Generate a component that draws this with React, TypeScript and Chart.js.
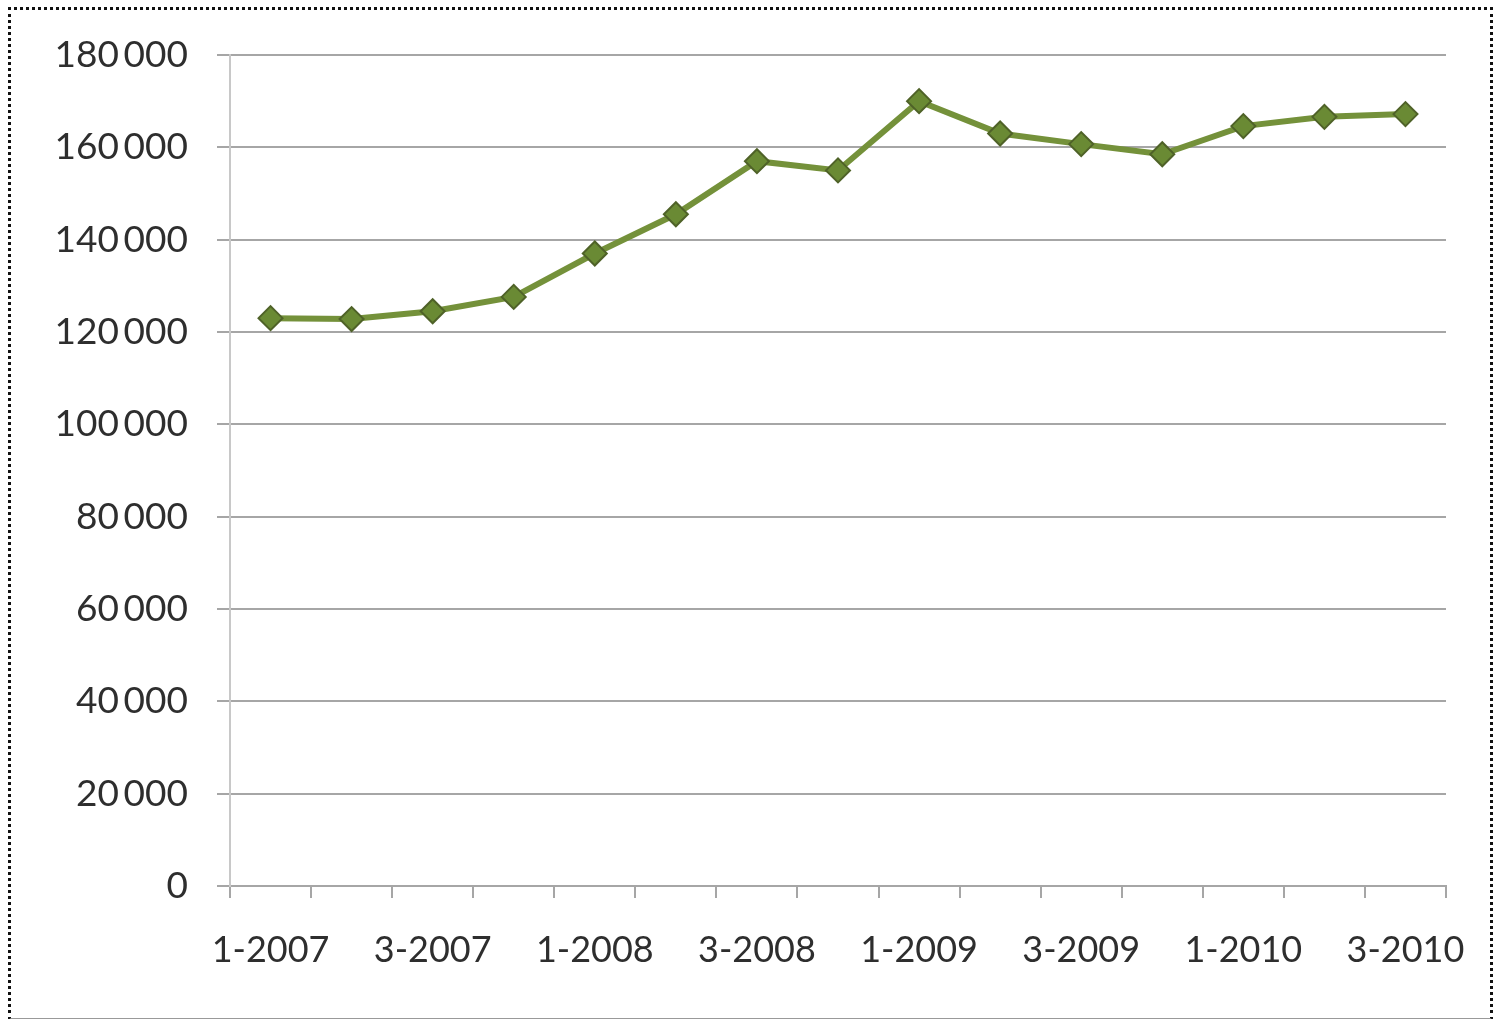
import React, { useEffect, useRef } from "react";
import { Chart, registerables } from "chart.js";

Chart.register(...registerables);

const categories = [
  "1-2007", "2-2007", "3-2007", "4-2007",
  "1-2008", "2-2008", "3-2008", "4-2008",
  "1-2009", "2-2009", "3-2009", "4-2009",
  "1-2010", "2-2010", "3-2010",
];
const values = [
  123000, 122800, 124500, 127600,
  137000, 145500, 157000, 155000,
  170000, 163000, 160700, 158500,
  164600, 166600, 167200,
];
const yMin = 0;
const yMax = 180000;
const yStep = 20000;

function formatNum(v: number): string {
  const s = Math.round(v).toString();
  return s.replace(/\B(?=(\d{3})+(?!\d))/g, "\u2009");
}

export default function App() {
  const ref = useRef<HTMLCanvasElement | null>(null);
  useEffect(() => {
    if (!ref.current) return;
    const chart = new Chart(ref.current, {
      type: "line",
      data: {
        labels: categories,
        datasets: [
          {
            data: values,
            borderColor: "#74913A",
            backgroundColor: "#74913A",
            borderWidth: 6,
            tension: 0,
            pointStyle: "rectRot",
            pointRadius: 12,
            pointBackgroundColor: "#6A8A34",
            pointBorderColor: "#4F6228",
            pointBorderWidth: 2,
          },
        ],
      },
      options: {
        responsive: false,
        animation: false,
        layout: { padding: { left: 0, right: 47, top: 55, bottom: 0 } },
        plugins: { legend: { display: false }, tooltip: { enabled: false } },
        scales: {
          x: {
            offset: true,
            grid: {
              offset: true,
              drawOnChartArea: false,
              drawTicks: true,
              tickLength: 12,
              color: "#a6a6a6",
              lineWidth: 2,
            },
            border: { display: true, color: "#a6a6a6", width: 2 },
            ticks: {
              autoSkip: false,
              maxRotation: 0,
              padding: 31,
              color: "#2e2e2e",
              font: { family: "Lato", size: 36 },
              callback: (_v: any, i: number) => (i % 2 === 0 ? categories[i] : ""),
            },
            afterFit: (scale: any) => {
              scale.height = 133;
              scale.paddingRight = 0;
              scale.paddingLeft = 0;
            },
          },
          y: {
            min: yMin,
            max: yMax,
            ticks: {
              stepSize: yStep,
              padding: 29,
              color: "#2e2e2e",
              font: { family: "Lato", size: 37 },
              callback: (v: any) => formatNum(Number(v)),
            },
            grid: {
              color: "#a6a6a6",
              lineWidth: 2,
              tickLength: 13,
            },
            border: { display: true, color: "#c8c8c8", width: 2 },
            afterFit: (scale: any) => {
              scale.width = 230;
            },
          },
        },
      },
    });
    return () => chart.destroy();
  }, []);
  return (
    <div style={{ position: "fixed", left: 0, top: 0, width: 1493, height: 1019, background: "#fff" }}>
      <div
        style={{
          position: "absolute",
          left: 8,
          top: 7,
          width: 1479,
          height: 1008,
          border: "3px dotted #111",
          borderBottom: "2px solid #999",
        }}
      />
      <canvas ref={ref} width={1493} height={1019} style={{ position: "absolute", left: 0, top: 0 }} />
    </div>
  );
}
